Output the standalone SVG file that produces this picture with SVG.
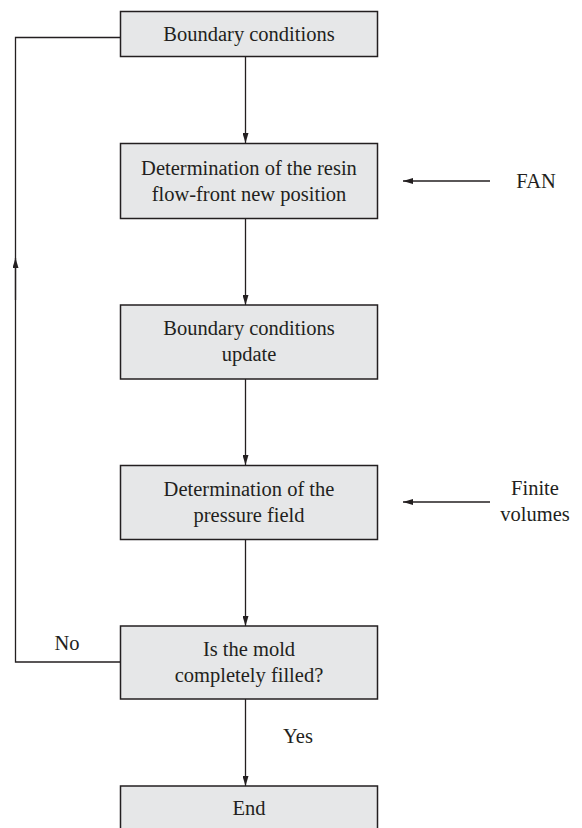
<svg xmlns="http://www.w3.org/2000/svg" width="582" height="828" viewBox="0 0 582 828">
<style>
.box{fill:#e6e7e8;stroke:#231f20;stroke-width:1.5}
.t{font-family:"Liberation Serif","Times New Roman",serif;font-size:20.5px;fill:#231f20;text-anchor:middle;dominant-baseline:central}
.c{fill:none;stroke:#231f20;stroke-width:1.3}
</style>
<defs>
<marker id="ah" viewBox="0 0 10 6" refX="10" refY="3" markerWidth="10" markerHeight="6" markerUnits="userSpaceOnUse" orient="auto">
<path d="M0,0 L10,3 L0,6 z" fill="#231f20"/>
</marker>
</defs>
<rect width="582" height="828" fill="#fff"/>
<g id="connectors">
<line class="c" x1="245.5" y1="56" x2="245.5" y2="143" marker-end="url(#ah)"/>
<line class="c" x1="245.5" y1="218" x2="245.5" y2="305" marker-end="url(#ah)"/>
<line class="c" x1="245.5" y1="379" x2="245.5" y2="465" marker-end="url(#ah)"/>
<line class="c" x1="245.5" y1="539" x2="245.5" y2="626" marker-end="url(#ah)"/>
<line class="c" x1="245.5" y1="699" x2="245.5" y2="786" marker-end="url(#ah)"/>
<line class="c" x1="490" y1="181" x2="403" y2="181" marker-end="url(#ah)"/>
<line class="c" x1="490" y1="502" x2="403" y2="502" marker-end="url(#ah)"/>
<polyline class="c" points="120,662 15.5,662 15.5,37.5 120,37.5"/>
<line class="c" x1="15.5" y1="300" x2="15.5" y2="258" marker-end="url(#ah)"/>
<text class="t" x="67" y="643">No</text>
<text class="t" x="298" y="736">Yes</text>
</g>
<g id="n1"><rect class="box" x="120.5" y="11.5" width="257" height="45"/><text class="t" x="249" y="34">Boundary conditions</text></g>
<g id="n2"><rect class="box" x="120.5" y="143.5" width="257" height="75"/><text class="t" x="249" y="168">Determination of the resin</text><text class="t" x="249" y="194">flow-front new position</text></g>
<g id="n3"><rect class="box" x="120.5" y="305" width="257" height="74"/><text class="t" x="249" y="328">Boundary conditions</text><text class="t" x="249" y="354">update</text></g>
<g id="n4"><rect class="box" x="120.5" y="465.5" width="257" height="74"/><text class="t" x="249" y="489">Determination of the</text><text class="t" x="249" y="515">pressure field</text></g>
<g id="n5"><rect class="box" x="120.5" y="626" width="257" height="73"/><text class="t" x="249" y="649">Is the mold</text><text class="t" x="249" y="675">completely filled?</text></g>
<g id="n6"><rect class="box" x="120.5" y="786" width="257" height="60"/><text class="t" x="249" y="808">End</text></g>
<g id="fan"><text class="t" x="536" y="181">FAN</text></g>
<g id="fv"><text class="t" x="535" y="488">Finite</text><text class="t" x="535" y="514">volumes</text></g>
</svg>
